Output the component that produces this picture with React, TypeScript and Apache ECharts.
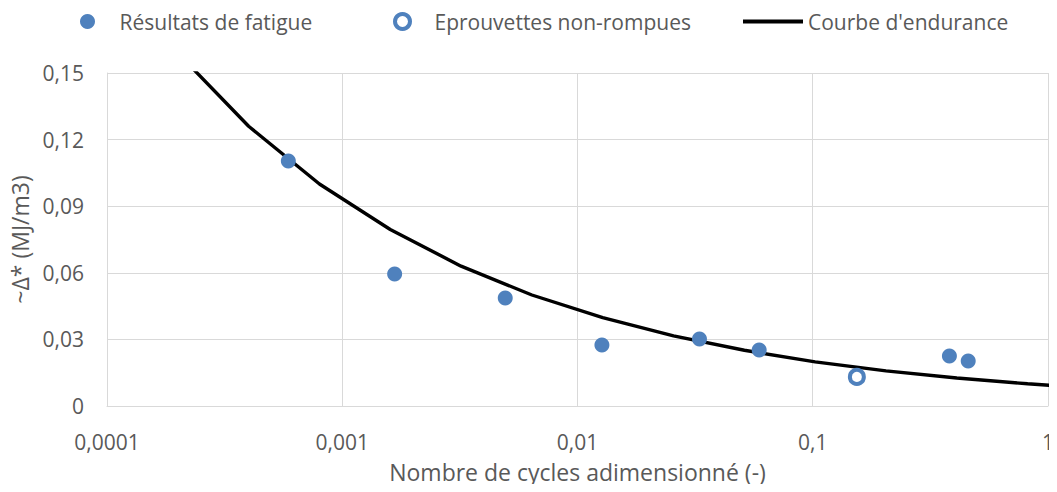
import React, { useEffect, useRef } from "react";
import * as echarts from "echarts";

// Résultats de fatigue (x: nombre de cycles adimensionné, y: ~Δ*)
const fatigueX = [0.00059, 0.00167, 0.00493, 0.0127, 0.033, 0.0592, 0.381, 0.458];
const fatigueY = [0.1104, 0.0595, 0.0486, 0.0275, 0.0302, 0.0252, 0.0225, 0.0203];

// Eprouvettes non-rompues
const runoutX = [0.154];
const runoutY = [0.0131];

// Courbe d'endurance
const curveX = [0.0002, 0.0004, 0.0008, 0.0016, 0.0032, 0.0064, 0.0128, 0.0256, 0.0512, 0.1024, 0.2048, 0.4096, 0.8192, 1.6384];
const curveY = [0.159, 0.126, 0.1, 0.0795, 0.063, 0.05, 0.0398, 0.0316, 0.0251, 0.0199, 0.0158, 0.0126, 0.01, 0.0079];

const yTicks = [0, 0.03, 0.06, 0.09, 0.12, 0.15];

const BLUE = "#4F81BD";
const TEXT = "#595959";
const FONT = "Open Sans";

export default function App() {
  const ref = useRef<HTMLDivElement>(null);
  useEffect(() => {
    if (!ref.current) return;
    const chart = echarts.init(ref.current, null, { renderer: "svg" });
    const zip = (xs: number[], ys: number[]) => xs.map((x, i) => [x, ys[i]]);
    const legendText = { fontFamily: FONT, fontSize: 21, color: TEXT };
    chart.setOption({
      animation: false,
      textStyle: { fontFamily: FONT, color: TEXT },
      legend: [
        {
          left: 75,
          top: 6,
          itemWidth: 54,
          itemHeight: 15,
          textStyle: legendText,
          data: [{ name: "Résultats de fatigue", icon: "circle" }],
        },
        {
          left: 388,
          top: 6,
          itemWidth: 54,
          itemHeight: 15,
          textStyle: legendText,
          data: [
            {
              name: "Eprouvettes non-rompues",
              icon: "circle",
              itemStyle: { color: "#ffffff", borderColor: BLUE, borderWidth: 4 },
            },
          ],
        },
        {
          left: 738,
          top: 6,
          itemWidth: 60,
          itemHeight: 15,
          textStyle: legendText,
          data: [
            {
              name: "Courbe d'endurance",
              icon: "path://M0,0 L60,0 L60,4 L0,4 Z",
              itemStyle: { color: "#000000" },
            },
          ],
        },
      ],
      grid: { left: 107, right: 5, top: 73, bottom: 86 },
      xAxis: {
        type: "log",
        logBase: 10,
        min: 0.0001,
        max: 1,
        name: "Nombre de cycles adimensionné (-)",
        nameLocation: "middle",
        nameGap: 54,
        nameTextStyle: { fontFamily: FONT, fontSize: 23, color: TEXT },
        axisLine: { show: true, lineStyle: { color: "#d9d9d9", width: 1 } },
        axisTick: { show: false },
        splitLine: { show: true, lineStyle: { color: "#d9d9d9", width: 1 } },
        minorTick: { show: false },
        axisLabel: {
          margin: 25,
          fontFamily: FONT,
          fontSize: 21,
          color: TEXT,
          formatter: (v: number) => {
            const e = Math.round(Math.log10(v));
            return e >= 0 ? "1" : "0," + "0".repeat(-e - 1) + "1";
          },
        },
      },
      yAxis: {
        type: "value",
        min: yTicks[0],
        max: yTicks[yTicks.length - 1],
        interval: 0.03,
        name: "~Δ* (MJ/m3)",
        nameLocation: "middle",
        nameGap: 74,
        nameTextStyle: { fontFamily: FONT, fontSize: 23, color: TEXT },
        axisLine: { show: true, lineStyle: { color: "#d9d9d9", width: 1 } },
        axisTick: { show: false },
        splitLine: { show: true, lineStyle: { color: "#d9d9d9", width: 1 } },
        axisLabel: {
          margin: 23,
          fontFamily: FONT,
          fontSize: 21,
          color: TEXT,
          formatter: (v: number) => (v === 0 ? "0" : v.toFixed(2).replace(".", ",")),
        },
      },
      series: [
        {
          name: "Courbe d'endurance",
          type: "line",
          data: zip(curveX, curveY),
          showSymbol: false,
          symbol: "none",
          clip: true,
          lineStyle: { color: "#000000", width: 3.4 },
          itemStyle: { color: "#000000" },
          z: 2,
        },
        {
          name: "Résultats de fatigue",
          type: "scatter",
          data: zip(fatigueX, fatigueY),
          symbol: "circle",
          symbolSize: 15,
          itemStyle: { color: BLUE, opacity: 1 },
          z: 3,
        },
        {
          name: "Eprouvettes non-rompues",
          type: "scatter",
          data: zip(runoutX, runoutY),
          symbol: "circle",
          symbolSize: 14,
          itemStyle: { color: "#ffffff", borderColor: BLUE, borderWidth: 4, opacity: 1 },
          z: 3,
        },
      ],
    });
    return () => chart.dispose();
  }, []);
  return <div ref={ref} style={{ width: 1057, height: 492, margin: -8 }} />;
}
